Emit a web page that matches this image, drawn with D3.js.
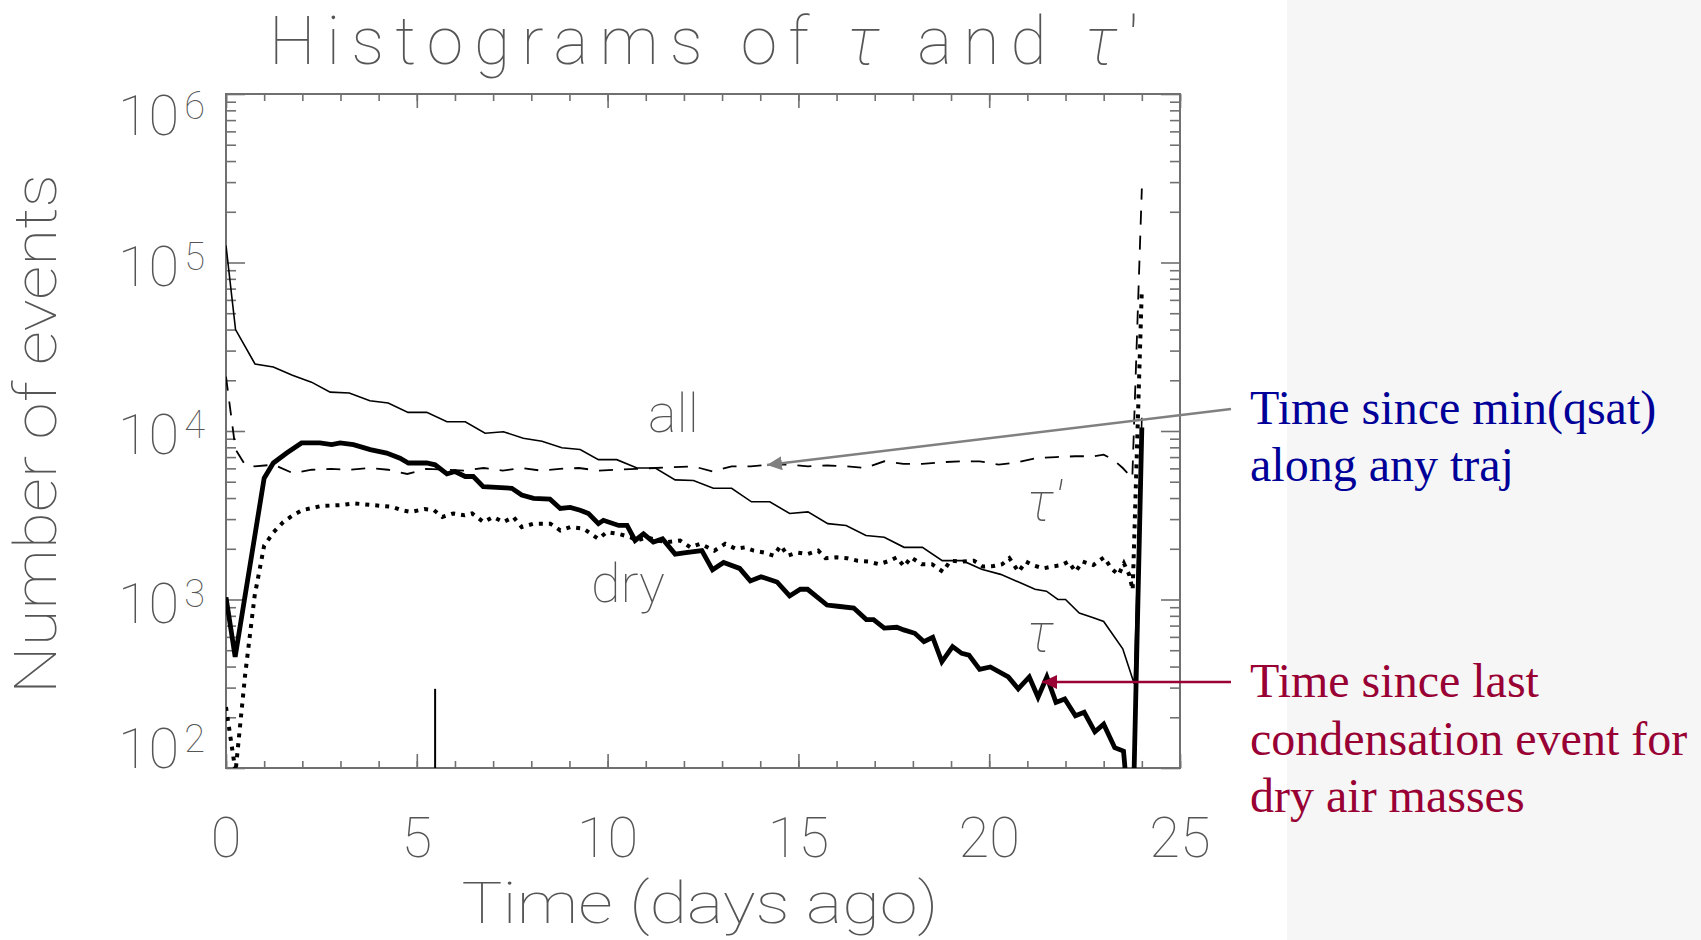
<!DOCTYPE html>
<html>
<head>
<meta charset="utf-8">
<script src="https://cdn.jsdelivr.net/npm/d3@7/dist/d3.min.js"></script>
<style>
body{margin:0;background:#fff;}
svg{display:block;}
</style>
</head>
<body>
<svg width="1701" height="940"></svg>
<script>
var width = 1701, height = 940;
var plot = {left:226, right:1180, top:94, bottom:768};

// thin solid line, "all"
var allDays   = [0,0.25,0.76,1.24,1.74,2.24,2.73,3.23,3.77,4.25,4.77,5.26,5.79,6.27,6.79,7.27,7.79,8.28,8.8,9.28,9.76,10.24,10.77,11.25,11.77,12.25,12.77,13.25,13.77,14.25,14.77,15.25,15.77,16.25,16.77,17.25,17.77,18.25,18.77,19.3,19.8,20.3,20.8,21.2,21.5,21.8,22.0,22.36,22.73,23.0,23.5,23.8,24.0];
var allCounts = [126000,40000,25000,24000,21400,19500,17000,16800,15100,14650,12900,12900,11350,11350,9700,9900,9060,8700,7950,7760,6760,6760,6030,6030,5130,5080,4570,4570,3800,3800,3240,3310,2820,2750,2400,2340,2040,2040,1700,1700,1510,1410,1260,1150,1120,1000,1000,830,780,740,510,316,12000];

// thick solid line, "dry" (tau)
var dryDays   = [0,0.24,1.0,1.24,1.59,1.98,2.46,2.77,2.99,3.34,3.78,4.21,4.56,4.78,5.26,5.48,5.79,6.0,6.27,6.48,6.74,7.49,7.75,8.06,8.49,8.76,9.02,9.28,9.5,9.76,9.89,10.29,10.51,10.72,10.94,11.2,11.44,11.77,12.05,12.47,12.75,13.04,13.46,13.74,14.02,14.44,14.77,15.05,15.24,15.75,16.03,16.45,16.78,16.97,17.25,17.58,17.76,18.05,18.29,18.52,18.76,19.04,19.28,19.47,19.75,20.03,20.5,20.76,21.05,21.28,21.51,21.75,21.98,22.26,22.49,22.77,23.0,23.29,23.52,23.75,24.0];
var dryCounts = [1030,457,5250,6460,7400,8500,8500,8300,8500,8300,7760,7400,6900,6460,6460,6300,5560,5750,5370,5370,4680,4570,4170,3980,3940,3470,3520,3390,3240,2820,2950,2750,2750,2240,2450,2190,2290,1860,1900,1950,1500,1660,1530,1290,1365,1270,1050,1150,1150,927,912,890,760,760,676,684,660,630,562,597,427,525,479,468,385,398,347,295,347,263,347,245,257,204,214,164,182,132,126,32,10500];

// dashed line, tau'
var tauPDays   = [0,0.25,0.5,0.75,1.25,1.75,2.25,2.75,3.25,3.75,4.25,4.75,5.25,5.75,6.25,6.75,7.25,7.75,8.25,8.75,9.25,9.75,10.25,10.75,11.25,11.75,12.25,12.75,13.25,13.75,14.25,14.75,15.25,15.75,16.25,16.75,17.25,17.75,18.25,18.75,19.25,19.75,20.25,20.75,21.25,21.75,22.25,22.75,23.0,23.25,23.5,23.75,24.0];
var tauPCounts = [21000,7760,6300,6170,6310,5620,5890,5960,5890,6030,5890,5560,5960,5890,5820,6030,5820,6030,5820,5960,6030,5820,5890,5960,6030,6100,6170,5750,6170,6170,6310,6310,6170,6240,6170,6030,6610,6380,6380,6530,6610,6610,6310,6530,6920,7000,7080,7080,7240,6760,6030,5250,275000];

// dotted line, tau' for dry air masses
var dotDays   = [0,0.25,0.5,0.75,1.0,1.25,1.5,1.75,2.0,2.5,3.0,3.35,3.85,4.35,4.6,4.85,5.2,5.45,5.67,5.95,6.25,6.45,6.75,7.0,7.27,7.53,7.75,8.06,8.5,8.76,9.02,9.37,9.76,9.98,10.29,10.6,10.77,11.03,11.3,11.56,11.9,12.17,12.43,12.8,13.08,13.36,13.6,13.83,14.1,14.35,14.54,14.72,14.96,15.24,15.52,15.71,15.99,16.27,16.55,16.83,17.11,17.4,17.58,17.77,17.95,18.23,18.5,18.79,18.98,19.26,19.6,19.83,20.11,20.34,20.53,20.77,20.96,21.14,21.42,21.66,21.9,22.08,22.26,22.45,22.73,23.01,23.2,23.39,23.53,23.67,23.76,24.0];
var dotCounts = [230,95,355,1050,2090,2510,2880,3160,3390,3590,3630,3720,3630,3550,3390,3310,3440,3390,3090,3240,3160,3240,2880,3090,2880,3090,2690,2820,2820,2570,2690,2630,2290,2510,2450,2340,2240,2340,2240,2190,2240,2040,2140,1950,2140,2000,2040,1950,1900,1820,2090,1820,1900,1860,1950,1760,1780,1760,1700,1680,1620,1700,1780,1570,1780,1620,1620,1460,1700,1680,1700,1570,1580,1620,1760,1460,1680,1600,1530,1570,1600,1680,1460,1680,1600,1780,1530,1400,1640,1400,1140,70000];

// short vertical mark near 5.5 days
var markDays   = [5.48,5.48];
var markCounts = [100,295];

var xMajor = [0,5,10,15,20,25];
var xMinor = d3.range(0,26);
var yExp = [2,3,4,5,6];

var textFont = "Roboto, 'Open Sans', 'DejaVu Sans', sans-serif";
var serifFont = "'Liberation Serif', 'Times New Roman', serif";
var gray = "#555";
var frameGray = "#707070";

var svg = d3.select("svg");

// light grey panel on the right
svg.append("rect")
   .attr("x",1287).attr("y",0)
   .attr("width",width-1287).attr("height",height)
   .attr("fill","#f6f6f6");

var x = d3.scaleLinear().domain([0,25]).range([plot.left,plot.right]);
var y = d3.scaleLog().domain([100,1e6]).range([plot.bottom,plot.top]);

svg.append("clipPath").attr("id","plotclip")
   .append("rect")
   .attr("x",plot.left).attr("y",plot.top)
   .attr("width",plot.right-plot.left).attr("height",plot.bottom-plot.top);

// ticks, all pointing inward
var yMinor = y.ticks().filter(function(v){ return Math.abs(Math.log10(v)-Math.round(Math.log10(v)))>1e-6; });
var yMajor = yExp.map(function(e){ return Math.pow(10,e); });

function drawAxis(axis, tx, ty){
	var g = svg.append("g").attr("transform","translate("+tx+","+ty+")").call(axis);
	g.select(".domain").remove();
	g.selectAll("text").remove();
	g.selectAll("line").attr("stroke",frameGray).attr("stroke-width",1.6);
	return g;
}
drawAxis(d3.axisBottom(x).tickValues(xMajor).tickSize(-14), 0, plot.bottom);
drawAxis(d3.axisBottom(x).tickValues(xMinor).tickSize(-7), 0, plot.bottom);
drawAxis(d3.axisTop(x).tickValues(xMajor).tickSize(-14), 0, plot.top);
drawAxis(d3.axisTop(x).tickValues(xMinor).tickSize(-7), 0, plot.top);
drawAxis(d3.axisLeft(y).tickValues(yMajor).tickSize(-19), plot.left, 0);
drawAxis(d3.axisLeft(y).tickValues(yMinor).tickSize(-10), plot.left, 0);
drawAxis(d3.axisRight(y).tickValues(yMajor).tickSize(-19), plot.right, 0);
drawAxis(d3.axisRight(y).tickValues(yMinor).tickSize(-10), plot.right, 0);

svg.append("rect")
   .attr("x",plot.left).attr("y",plot.top)
   .attr("width",plot.right-plot.left).attr("height",plot.bottom-plot.top)
   .attr("fill","none").attr("stroke",frameGray).attr("stroke-width",2);

// x tick labels
svg.append("g").selectAll("text").data(xMajor).enter()
   .append("text")
   .attr("x",function(d){ return x(d); })
   .attr("y",857)
   .attr("text-anchor","middle")
   .attr("font-family",textFont).attr("font-weight",100)
   .attr("font-size",56).attr("fill",gray)
   .text(function(d){ return d; });

// y tick labels 10^n, kept inside the frame at the ends
var ylab = svg.append("g").selectAll("text").data(yExp).enter()
   .append("text")
   .attr("x",205)
   .attr("y",function(d){
		var b = y(Math.pow(10,d))+23;
		if(b<plot.top+41) b = plot.top+41;
		if(b>plot.bottom) b = plot.bottom;
		return b;
   })
   .attr("text-anchor","end")
   .attr("font-family",textFont).attr("font-weight",100)
   .attr("font-size",56).attr("fill",gray);
ylab.append("tspan").text("10");
ylab.append("tspan").attr("dx",5).attr("dy",-16).attr("font-size",38).text(function(d){ return d; });

// titles
var title = svg.append("text")
   .attr("x",704).attr("y",64)
   .attr("text-anchor","middle")
   .attr("font-family",textFont).attr("font-weight",100)
   .attr("font-size",66).attr("fill",gray)
   .attr("textLength",870).attr("lengthAdjust","spacing");
title.append("tspan").text("Histograms of ");
title.append("tspan").attr("font-style","italic").text("τ");
title.append("tspan").text(" and ");
title.append("tspan").attr("font-style","italic").text("τ");
title.append("tspan").text("'");

svg.append("text")
   .attr("x",700).attr("y",923)
   .attr("text-anchor","middle")
   .attr("font-family",textFont).attr("font-weight",100)
   .attr("font-size",57).attr("fill",gray)
   .attr("textLength",477).attr("lengthAdjust","spacingAndGlyphs")
   .text("Time (days ago)");

svg.append("text")
   .attr("transform","translate(56,434) rotate(-90)")
   .attr("text-anchor","middle")
   .attr("font-family",textFont).attr("font-weight",100)
   .attr("font-size",60).attr("fill",gray)
   .attr("textLength",520).attr("lengthAdjust","spacingAndGlyphs")
   .text("Number of events");

// data lines
var line = d3.line()
   .x(function(d){ return x(d[0]); })
   .y(function(d){ return y(d[1]); });

function zip(a,b){ return a.map(function(v,i){ return [v,b[i]]; }); }

var lines = svg.append("g").attr("clip-path","url(#plotclip)");
lines.append("path").datum(zip(allDays,allCounts))
     .attr("d",line).attr("fill","none").attr("stroke","#000").attr("stroke-width",1.6);
lines.append("path").datum(zip(tauPDays,tauPCounts))
     .attr("d",line).attr("fill","none").attr("stroke","#000").attr("stroke-width",1.8)
     .attr("stroke-dasharray","14,11");
lines.append("path").datum(zip(dotDays,dotCounts))
     .attr("d",line).attr("fill","none").attr("stroke","#000").attr("stroke-width",4)
     .attr("stroke-dasharray","4,6");
lines.append("path").datum(zip(dryDays,dryCounts))
     .attr("d",line).attr("fill","none").attr("stroke","#000").attr("stroke-width",4.8)
     .attr("stroke-linejoin","miter");
lines.append("path").datum(zip(markDays,markCounts))
     .attr("d",line).attr("fill","none").attr("stroke","#000").attr("stroke-width",2);

// labels inside the plot
function inLabel(tx,ty,str,italic){
	return svg.append("text").attr("x",tx).attr("y",ty)
	   .attr("font-family",textFont).attr("font-weight",100)
	   .attr("font-size",54).attr("fill",gray)
	   .attr("font-style",italic?"italic":"normal")
	   .text(str);
}
inLabel(648,432,"all",false);
inLabel(591,602,"dry",false);
inLabel(1027,520,"τ'",true);
inLabel(1027,651,"τ",true);

// arrows
var defs = svg.append("defs");
function arrowHead(id,color){
	defs.append("marker")
	    .attr("id",id)
	    .attr("markerUnits","userSpaceOnUse")
	    .attr("viewBox","0 -7 15 14")
	    .attr("refX",15).attr("refY",0)
	    .attr("markerWidth",15).attr("markerHeight",14)
	    .attr("orient","auto")
	    .append("path").attr("d","M0,-7L15,0L0,7Z").attr("fill",color);
}
arrowHead("grayhead","#808080");
arrowHead("redhead","#990033");

svg.append("line")
   .attr("x1",1231).attr("y1",409).attr("x2",767).attr("y2",465)
   .attr("stroke","#808080").attr("stroke-width",2.5)
   .attr("marker-end","url(#grayhead)");
svg.append("line")
   .attr("x1",1231).attr("y1",682).attr("x2",1042).attr("y2",682)
   .attr("stroke","#990033").attr("stroke-width",2.5)
   .attr("marker-end","url(#redhead)");

// annotations
var blueLines = ["Time since min(qsat)","along any traj"];
var redLines = ["Time since last","condensation event for","dry air masses"];

svg.append("g").selectAll("text").data(blueLines).enter()
   .append("text")
   .attr("x",1250).attr("y",function(d,i){ return 424+i*57; })
   .attr("font-family",serifFont).attr("font-size",48).attr("fill","#000099")
   .text(function(d){ return d; });
svg.append("g").selectAll("text").data(redLines).enter()
   .append("text")
   .attr("x",1250).attr("y",function(d,i){ return 697+i*57.5; })
   .attr("font-family",serifFont).attr("font-size",48).attr("fill","#990033")
   .text(function(d){ return d; });
</script>
</body>
</html>
